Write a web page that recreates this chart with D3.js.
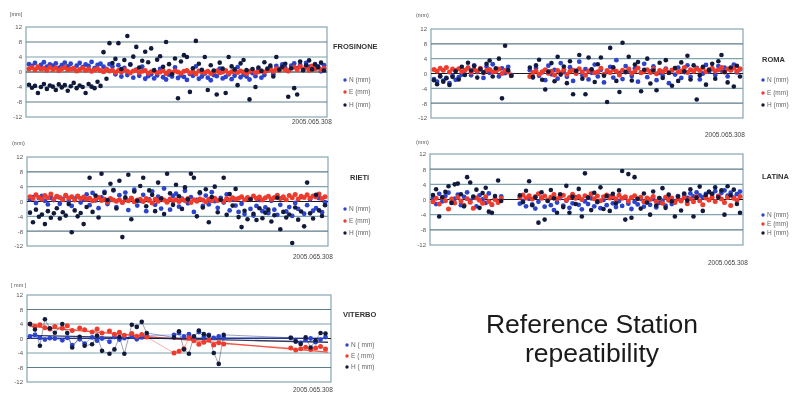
<!DOCTYPE html>
<html>
<head>
<meta charset="utf-8">
<script src="https://cdn.jsdelivr.net/npm/d3@7"></script>
<style>
  body { margin: 0; background: #fff; }
  svg { display: block; filter: blur(0.4px); }
  text { font-family: "Liberation Sans", Arial, sans-serif; }
</style>
</head>
<body>
<svg id="chart" width="792" height="393"></svg>
<script>
// values (mm), one value per day, null = no data
var yTicks = [12, 8, 4, 0, -4, -8, -12];
var seriesNames = ["N (mm)", "E (mm)", "H (mm)"];
var viterboNames = ["N ( mm)", "E ( mm)", "H ( mm)"];
var dateLabel = "2005.065.308";
var titleLines = ["Reference Station", "repeatibility"];

var frN = [2.1,1.6,2.4,1.2,1.9,2.6,1.4,2.0,1.7,2.3, 1.1,1.8,2.5,1.5,2.2,0.9,1.7,2.4,1.3,2.0,
  1.6,2.7,1.0,1.9,2.2,1.4,0.8,2.1,1.5,-0.6, 1.8,-1.2,1.1,-0.8,2.0,-1.5,0.6,-1.0,1.4,-1.8,
  -1.1,-0.6,-1.7,-0.9,0.8,-1.4,-2.0,-0.7,-1.2,1.2, -1.6,-0.9,-1.3,-2.1,-0.5,-1.0,1.5,-1.8,-1.2,-0.4,
  -1.5,-2.2,-0.8,-1.1,0.9,-1.7,-1.3,-0.6,-1.9,-1.0, 1.3,-1.4,-0.7,-1.2,-2.0,-0.3,-1.1,0.6,-1.5,-0.8,
  0.4,1.2,-0.6,1.6,0.8,2.0,1.1,0.3,1.7,2.3, 1.0,1.9,0.6,2.4,1.4,0.9,2.1,1.5,0.2,1.8];
var frE = [0.9,1.2,0.6,1.4,0.8,1.0,0.5,1.3,0.7,1.1, 0.4,0.9,1.2,0.6,0.8,1.0,0.3,0.7,1.1,0.5,
  0.8,0.2,0.6,0.9,0.4,0.1,0.7,0.3,0.5,-0.1, 0.4,0.0,0.6,0.2,-0.2,0.3,0.5,-0.1,0.2,0.4,
  -0.3,0.1,0.3,-0.2,0.0,0.4,-0.4,0.2,-0.1,0.3, 0.0,-0.3,0.2,0.4,-0.2,0.1,-0.5,0.3,0.0,-0.1,
  0.2,-0.4,0.1,0.3,-0.2,0.0,0.4,-0.3,0.1,0.2, -0.1,0.3,0.0,-0.4,0.2,0.5,-0.2,0.1,0.3,0.0,
  0.4,0.7,0.2,0.9,0.5,1.1,0.6,0.3,1.0,1.3, 0.7,1.5,0.8,1.2,0.5,1.6,0.9,1.1,0.6,1.0];
var frH = [-3.4,-4.2,-3.7,-5.6,-4.0,-3.2,-4.5,-3.6,-3.9,-4.8, -3.3,-4.1,-3.5,-5.0,-3.8,-2.9,-4.3,-3.6,-4.0,-5.6,
  -3.2,-3.9,-4.3,-2.6,-3.7, 5.3,-1.8,7.7,2.4,3.5,7.7,0.8,3.2,9.6,2.0,4.1,6.7,1.2,3.0,5.4,
  2.6,6.3,0.5,3.3,4.2,1.4,8.0,2.1,-0.6,3.6, -7.0,2.8,4.5,4.0,-5.3,1.0,8.3,2.2,0.6,4.0,
  -4.8,1.8,0.4,-6.0,2.5,0.9,-5.6,4.0,1.5,0.7, -3.5,2.3,3.2,0.5,-7.3,0.8,-4.0,1.2,0.3,2.6,
  0.9,1.7,-1.2,4.0,0.6,1.4,2.2,-6.6,1.0,-4.3, -6.0,2.8,0.5,1.8,3.1,0.7,2.0,1.3,2.5,0.4];

var rmN = [-1.5,-2.2,-0.8,-1.9,-1.2,-2.6,-0.6,-1.7,-1.0,-0.3, 0.8,1.6,-0.5,2.2,0.4,1.1,-1.2,1.9,0.2,2.5,
  0.6,-0.8,1.4,0.1,1.8,-0.4, null,null,null,null,null, 0.9,-1.1,1.5,-0.6,0.3,-1.8,2.1,-0.2,1.0,
  -1.4,2.8,0.4,-0.9,1.7,-2.0,0.7,3.2,-0.5,1.2, -1.6,0.2,2.4,-0.8,1.0,-2.4,0.5,1.8,-1.1,3.6,
  0.1,-1.5,2.0,0.8,-0.7,1.4,-2.2,0.3,2.6,-1.0, 0.6,1.9,-1.8,0.2,-0.6,1.3,-2.6,0.9,-0.3,1.6,
  -1.2,0.4,2.2,-0.9,0.7,1.5,-1.6,0.0,2.3,0.5, 1.2,-0.4,2.0,0.8,1.6,-0.8,1.0,2.4,0.3,1.1];
var rmE = [1.1,0.6,1.4,0.9,1.6,0.4,1.2,0.8,1.3,0.5, 0.9,1.5,0.3,1.0,0.7,1.4,0.2,0.8,1.1,0.5,
  0.6,1.2,0.0,0.9,0.4,-0.6, null,null,null,null,null, -0.8,0.3,0.7,-0.2,0.5,1.0,0.1,0.6,-0.4,
  0.8,0.2,1.1,-0.3,0.6,0.9,0.0,1.3,0.4,-0.5, 0.7,1.0,0.2,0.5,1.4,-0.2,0.8,0.3,1.1,0.6,
  -0.4,0.9,0.4,1.2,0.1,0.7,1.5,0.2,0.6,1.0, 0.3,1.3,-0.1,0.8,0.5,1.1,0.2,0.9,1.4,0.4,
  0.7,1.6,0.3,1.0,0.6,1.3,0.8,1.5,0.5,1.1, 1.4,0.7,1.0,1.6,0.4,1.2,0.9,1.5,0.6,1.3];
var rmH = [-1.8,-2.9,-0.7,-2.2,-1.3,-3.1,-0.9,0.6,-1.6,1.8, -0.4,2.9,0.8,2.0,-1.1,1.2,0.3,2.6,3.5,-0.8,
  1.4,4.0,-6.7,7.5,0.9,-0.6, null,null,null,null,null, 1.6,-0.9,2.2,3.7,-1.7,-4.3,0.5,2.8,-2.1,
  4.5,-0.3,1.9,-2.6,3.3,-5.6,0.7,5.0,-1.4,-5.6, 4.3,1.1,-2.3,2.5,4.3,-0.6,-7.7,6.9,1.7,-2.0,
  -5.0,8.3,0.4,4.5,-1.9,2.4,3.1,-4.8,1.0,4.0, -2.7,0.8,-4.5,2.9,-1.2,3.6,0.2,-3.3,1.5,-2.0,
  3.0,0.6,4.8,-1.6,2.2,-7.0,-0.5,1.8,-3.0,0.9, 2.6,-1.4,3.3,5.0,0.4,-2.4,1.6,-3.5,2.1,-0.8];

var riN = [0.6,1.2,-0.4,0.9,1.5,0.2,-0.8,1.0,0.4,1.3, -0.6,0.7,1.6,0.1,-1.2,0.8,1.4,-0.3,0.5,1.9,
  -1.0,2.3,0.3,-1.8,1.1,2.6,-0.7,0.4,3.0,-1.5, 1.7,-0.2,2.4,-2.3,0.9,3.2,-1.1,0.2,1.8,-2.6,
  0.6,2.7,-0.9,1.3,-1.9,3.5,0.0,-2.2,1.5,2.1, -1.4,0.8,2.9,-0.5,1.2,-2.8,0.4,2.2,-1.2,1.6,
  -0.8,2.5,0.1,-1.7,1.0,-0.3,1.9,-2.4,0.5,-1.1, -2.8,-0.6,-3.4,0.8,-2.0,-3.8,-1.2,0.4,-2.6,-1.6,
  -3.1,0.2,-2.2,-3.6,-0.9,1.0,-2.7,-1.5,-3.9,-0.4, -2.0,1.2,-3.3,-1.0,0.6,-2.5,-1.8,0.9,-2.9,-0.2];
var riE = [1.3,0.8,1.8,1.1,0.6,1.6,1.0,2.0,0.7,1.4, 1.1,0.5,1.7,0.9,1.3,0.4,1.5,0.8,1.2,0.6,
  0.9,0.2,0.7,1.1,0.3,0.6,-0.2,0.8,0.4,0.1, 0.5,-0.3,0.7,0.2,0.9,-0.1,0.4,0.6,0.0,0.8,
  0.3,-0.4,0.6,0.1,0.9,0.4,-0.2,0.7,0.2,0.5, 0.0,0.6,0.3,0.8,-0.3,0.5,0.1,0.7,0.4,-0.1,
  0.6,0.2,0.9,0.3,0.5,0.0,0.8,0.4,1.0,0.6, 0.9,1.3,0.5,1.1,0.7,1.5,0.8,1.2,0.4,1.0,
  1.4,0.6,1.1,1.7,0.8,1.3,0.5,1.6,1.0,1.9, 0.7,1.4,1.1,1.8,0.9,1.5,1.2,2.0,0.8,1.3];
var riH = [-3.0,-5.6,-2.2,-4.1,-3.5,-6.1,-2.6,-4.4,-3.2,-1.8, -4.6,-2.9,-3.8,-0.7,-8.3,-2.4,-4.0,-3.1,-6.1,-1.5,
  6.4,-2.8,1.6,-4.3,7.5,2.3,0.4,4.8,3.1,-1.9, 5.6,-9.6,1.1,7.2,-4.8,2.7,0.2,4.2,6.4,-1.3,
  3.0,1.8,-2.6,5.1,0.8,-3.4,7.5,2.2,-0.9,4.5, 1.4,-2.0,3.8,0.6,7.5,6.4,-4.0,2.5,-1.6,3.3,
  -5.6,1.2,4.0,-2.9,0.5,6.4,-3.6,2.0,-1.1,3.4, -4.2,-6.9,-2.5,-4.8,0.6,-3.3,-5.0,-1.8,-4.5,-3.0,
  -2.2,-5.4,-3.7,1.0,-7.5,-2.8,-4.3,-3.5,-11.2,-1.6, -4.9,-2.7,-6.7,5.1,-3.2,-4.6,1.8,-2.4,-3.9,-1.0];

var laN = [0.4,-1.2,1.5,-0.5,0.9,1.8,-0.8,0.2,1.3,-1.5, 0.7,1.9,-0.3,0.5,-1.8,1.1,0.0,-0.9,1.6,-1.4,
  0.3,-0.6,0.8, null,null,null,null,null, -1.1,-0.4,
  -1.8,0.2,-1.3,-2.4,-0.6,0.5,-1.9,-0.2,-1.5,-2.8, -0.8,0.4,-1.6,-0.3,-2.2,-1.0,0.6,-1.4,-2.6,-0.5,
  -1.2,0.3,-1.8,-0.7,-2.3,-0.1,-1.5,0.8,-1.0,-2.0, -0.4,-1.7,0.5,-1.1,-2.5,-0.6,-1.3,0.2,-1.9,-0.8,
  -1.4,0.1,-2.1,-0.9,-0.3,-1.6,0.6,-1.2,-0.5,0.9, -0.2,1.2,0.4,1.6,0.8,1.9,1.1,0.6,1.5,2.0,
  1.3,2.2,0.9,1.7,2.4,1.0,1.8,0.5,1.4,2.1];
var laE = [-0.6,0.3,-1.2,0.5,-0.3,-2.5,0.1,-0.9,0.6,-0.4, -1.5,0.2,-0.7,-2.3,0.4,-0.2,-1.0,0.7,-0.5,-1.3,
  0.0,-0.8,0.3, null,null,null,null,null, 0.6,1.2,
  0.4,1.0,0.1,0.8,1.5,0.3,0.9,-0.2,0.6,1.3, 0.2,0.7,1.1,-0.1,0.5,1.4,0.3,0.8,0.0,1.0,
  0.6,1.5,0.2,0.9,-0.3,0.7,1.2,0.4,0.8,0.1, 1.1,0.3,0.7,-0.4,0.5,1.0,0.2,0.6,-0.6,0.4,
  0.0,0.8,-0.5,0.3,-1.0,0.6,-0.2,0.4,-0.8,0.1, -0.4,0.5,-1.1,0.2,-0.6,0.7,-0.3,-1.4,0.4,-0.1,
  0.6,-0.5,0.9,0.1,-0.8,0.5,-1.6,0.3,-0.2,0.8];
var laH = [1.2,2.7,-4.5,0.6,2.0,3.5,-0.9,4.0,4.2,1.4, -1.8,5.9,4.5,0.8,2.6,-2.2,1.7,3.1,-3.2,-3.5,
  0.9,5.0,-0.4, null,null,null,null,null, 1.1,-0.7,
  2.3,4.8,-1.5,0.6,-6.1,1.9,-5.3,-0.4,2.5,0.3, -3.5,1.4,-2.0,3.6,-3.5,0.7,-1.2,2.8,-4.5,6.9,
  0.5,-2.8,1.8,-0.6,3.2,-2.5,0.9,-3.0,1.5,-1.0, 2.4,7.5,-5.3,6.7,-4.8,5.9,0.2,-2.4,1.6,-0.8,
  -4.0,2.1,-1.6,0.4,3.0,-2.2,1.3,-0.5,-4.5,0.8, -2.9,1.6,-0.3,2.7,-4.5,0.5,3.4,-3.0,1.2,2.0,
  1.5,3.2,0.6,2.4,-4.0,3.5,1.1,2.6,-1.2,-3.5];

// Viterbo has few observations: day numbers and values
var viDay = [0,2,4,6,8,10,13,15,17,20,22,25,27,29,32,34,36,38,41,43,45,47,
  58,60,62,64,66,68,70,72,74,76,78,
  105,107,109,111,113,115,117,119];
var viN = [0.6,1.0,0.2,-0.3,0.1,0.0,-0.5,0.2,-1.8,-0.2,-1.4,0.3,-0.6,0.0,-0.9,0.4,-0.3,0.1,0.5,-0.2,0.3,0.8,
  1.0,1.5,0.6,1.2,0.3,1.8,0.4,1.0,0.2,0.6,0.2,
  0.2,-0.8,-1.2,-0.4,0.0,-1.0,-0.3,0.4];
var viE = [4.0,3.4,3.8,3.0,2.6,3.3,2.8,3.5,2.2,2.9,2.4,1.8,2.6,1.5,2.1,1.2,1.7,0.9,1.4,0.6,1.1,0.4,
  -4.0,-3.5,-2.8,0.2,-0.6,-1.6,-1.0,-0.4,-1.8,-1.2,-1.5,
  -2.6,-3.2,-2.8,-2.4,-3.0,-2.6,-2.2,-2.9];
var viH = [4.0,2.5,-2.0,5.3,2.8,1.6,4.0,1.5,-2.5,0.5,-2.0,-1.6,0.8,-3.4,-4.2,-3.0,0.4,-4.2,3.8,3.2,4.6,1.5,
  0.3,2.0,-3.0,-4.2,0.6,2.2,1.2,0.8,-4.0,-7.0,1.0,
  0.2,-0.8,-1.5,0.3,-2.5,-0.5,1.5,1.4];

var colors = ["#2c44cc", "#ee3b2c", "#121a3c"];
var radius = [2.4, 2.5, 2.3];

var panels = [
  { name: "FROSINONE", unit: "[mm]", series: [frN, frE, frH], labels: seriesNames,
    box: { x0: 26, x1: 327, y0: 27, y1: 117 }, nameAt: [333, 49], legX: 345, legY: [82, 94, 107],
    dateAt: [292, 124], unitAt: [10, 16] },
  { name: "ROMA", unit: "(mm)", series: [rmN, rmE, rmH], labels: seriesNames,
    box: { x0: 431, x1: 743, y0: 29, y1: 118 }, nameAt: [762, 62], legX: 763, legY: [82, 95, 107],
    dateAt: [705, 137], unitAt: [416, 17] },
  { name: "RIETI", unit: "(mm)", series: [riN, riE, riH], labels: seriesNames,
    box: { x0: 27, x1: 328, y0: 157, y1: 246 }, nameAt: [350, 180], legX: 345, legY: [211, 223, 235],
    dateAt: [293, 259], unitAt: [12, 145] },
  { name: "LATINA", unit: "(mm)", series: [laN, laE, laH], labels: seriesNames,
    box: { x0: 430, x1: 743, y0: 154, y1: 245 }, nameAt: [762, 179], legX: 763, legY: [217, 226, 235],
    dateAt: [708, 265], unitAt: [416, 144] },
  { name: "VITERBO", unit: "[ mm ]", series: [viN, viE, viH], labels: viterboNames, days: viDay,
    box: { x0: 27, x1: 331, y0: 295, y1: 382 }, nameAt: [343, 317], legX: 347, legY: [347, 358, 369],
    dateAt: [293, 392], unitAt: [11, 287] }
];

var svg = d3.select('#chart');

panels.forEach(function (p) {
  var g = svg.append('g');
  var n = p.series[0].length;
  var x = d3.scaleLinear()
    .domain(p.days ? [0, 120] : [0, n - 1])
    .range([p.box.x0 + 3, p.box.x1 - 3]);
  var y = d3.scaleLinear().domain([-12, 12]).range([p.box.y1, p.box.y0]);

  // plot frame and grid
  g.append('rect')
    .attr('x', p.box.x0).attr('y', p.box.y0)
    .attr('width', p.box.x1 - p.box.x0).attr('height', p.box.y1 - p.box.y0)
    .attr('fill', '#fff').attr('stroke', '#86a6b2').attr('stroke-width', 1.2);

  g.selectAll('line.grid')
    .data(yTicks.filter(function (t) { return t !== 0 && Math.abs(t) !== 12; }))
    .enter().append('line')
    .attr('class', 'grid')
    .attr('x1', p.box.x0).attr('x2', p.box.x1)
    .attr('y1', function (d) { return y(d); }).attr('y2', function (d) { return y(d); })
    .attr('stroke', function (d) { return Math.abs(d) === 8 ? '#5f7a88' : '#7fa2ae'; })
    .attr('stroke-width', 1.2);

  g.append('line')
    .attr('x1', p.box.x0).attr('x2', p.box.x1)
    .attr('y1', y(0)).attr('y2', y(0))
    .attr('stroke', '#1a1a1a').attr('stroke-width', 1.2);

  var axis = d3.axisLeft(y).tickValues(yTicks).tickSize(0).tickPadding(4)
    .tickFormat(function (d) { return d; });
  var ax = g.append('g').attr('transform', 'translate(' + p.box.x0 + ',0)').call(axis);
  ax.select('.domain').remove();
  ax.selectAll('text').attr('font-size', 6).attr('fill', '#555')
    .style('font-family', '"Liberation Sans", Arial, sans-serif');

  // VITERBO: series joined by lines plus linear trends
  if (p.days) {
    p.series.forEach(function (vals, k) {
      var pts = vals.map(function (v, i) { return [p.days[i], v]; });
      var line = d3.line()
        .x(function (d) { return x(d[0]); })
        .y(function (d) { return y(d[1]); });
      g.append('path').datum(pts)
        .attr('d', line).attr('fill', 'none')
        .attr('stroke', colors[k]).attr('stroke-width', 0.9).attr('opacity', 0.45);
      var mx = d3.mean(pts, function (d) { return d[0]; });
      var my = d3.mean(pts, function (d) { return d[1]; });
      var sxy = d3.sum(pts, function (d) { return (d[0] - mx) * (d[1] - my); });
      var sxx = d3.sum(pts, function (d) { return (d[0] - mx) * (d[0] - mx); });
      var b = sxy / sxx;
      var ends = [0, 120].map(function (d) { return [d, my + b * (d - mx)]; });
      g.append('path').datum(ends)
        .attr('d', line).attr('fill', 'none')
        .attr('stroke', colors[k]).attr('stroke-width', 1.3).attr('opacity', 0.85);
    });
  }

  // markers
  p.series.forEach(function (vals, k) {
    var pts = vals.map(function (v, i) { return { x: p.days ? p.days[i] : i, v: v }; })
      .filter(function (d) { return d.v !== null; });
    g.selectAll('circle.s' + k)
      .data(pts)
      .enter().append('circle')
      .attr('class', 's' + k)
      .attr('cx', function (d) { return x(d.x); })
      .attr('cy', function (d) { return y(d.v); })
      .attr('r', radius[k])
      .attr('fill', colors[k]);
  });

  // station name, legend, labels
  g.append('text')
    .attr('x', p.nameAt[0]).attr('y', p.nameAt[1])
    .attr('font-size', 7.5).attr('font-weight', 'bold').attr('fill', '#333')
    .text(p.name);

  p.labels.forEach(function (lab, k) {
    g.append('circle')
      .attr('cx', p.legX).attr('cy', p.legY[k] - 2).attr('r', 1.7)
      .attr('fill', colors[k]);
    g.append('text')
      .attr('x', p.legX + 4).attr('y', p.legY[k])
      .attr('font-size', 6.5).attr('fill', '#666')
      .text(lab);
  });

  g.append('text')
    .attr('x', p.dateAt[0]).attr('y', p.dateAt[1])
    .attr('font-size', 6.5).attr('fill', '#444')
    .text(dateLabel);

  g.append('text')
    .attr('x', p.unitAt[0]).attr('y', p.unitAt[1])
    .attr('font-size', 5.5).attr('fill', '#555')
    .text(p.unit);
});

svg.selectAll('text.title')
  .data(titleLines)
  .enter().append('text')
  .attr('class', 'title')
  .attr('x', 592)
  .attr('y', function (d, i) { return 333 + i * 29; })
  .attr('text-anchor', 'middle')
  .attr('font-size', 26.5)
  .attr('fill', '#1a1a1a')
  .text(function (d) { return d; });
</script>
</body>
</html>
